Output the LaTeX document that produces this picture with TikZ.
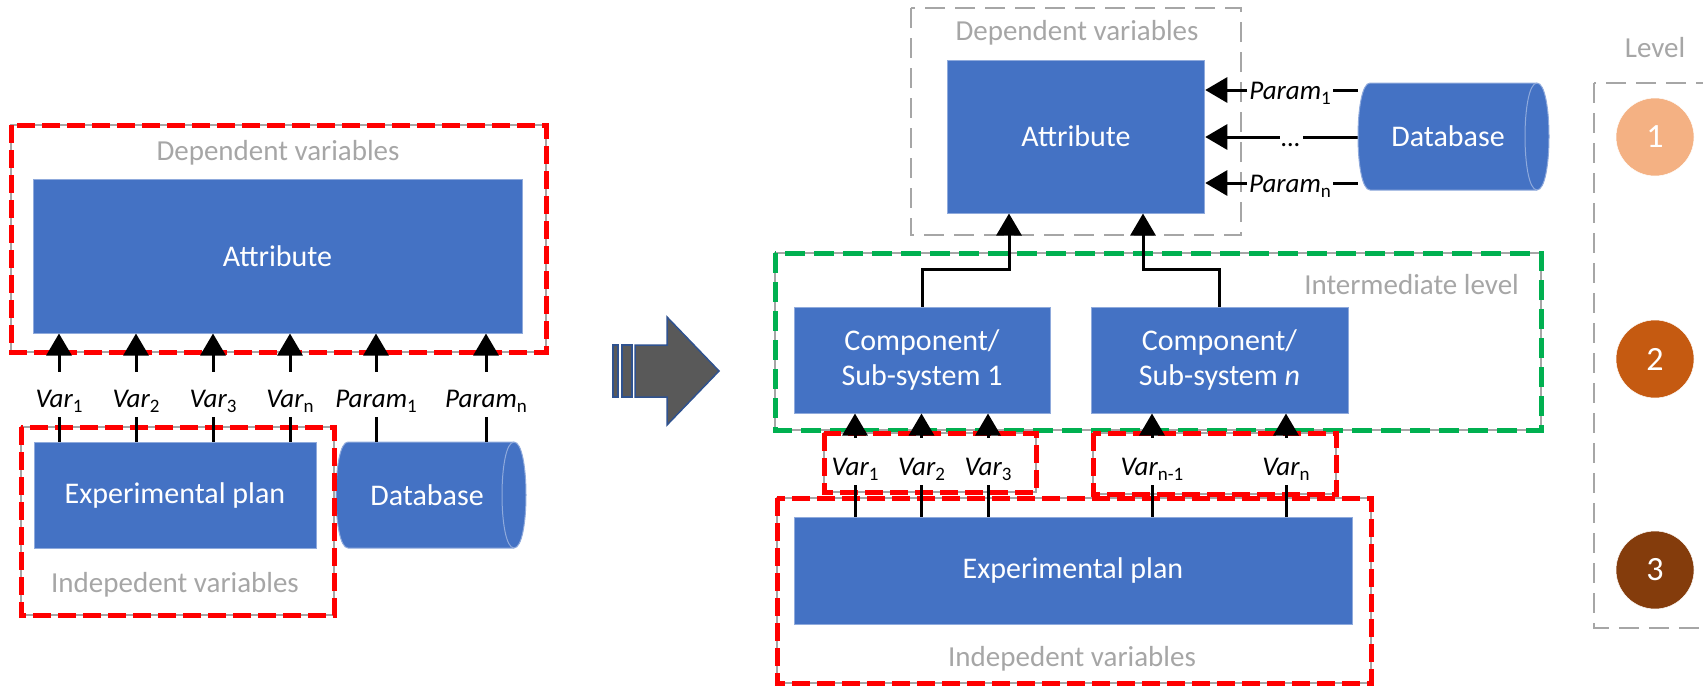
\documentclass[tikz,border=0pt]{standalone}
\usepackage{fontspec}
\setmainfont{Carlito}
\usetikzlibrary{arrows.meta}
\definecolor{boxblue}{HTML}{4472C4}
\definecolor{boxedge}{HTML}{8FAADC}
\definecolor{lgray}{HTML}{A6A6A6}
\definecolor{dred}{HTML}{FF0000}
\definecolor{dgreen}{HTML}{00B050}
\definecolor{arrgray}{HTML}{595959}
\definecolor{arredge}{HTML}{2F528F}
\definecolor{lvlone}{HTML}{F4B183}
\definecolor{lvltwo}{HTML}{C55A11}
\definecolor{lvlthree}{HTML}{843C0C}
\newcommand\fsz[2]{\fontsize{#1pt}{#2pt}\selectfont}
\newcommand\lowidx[1]{\raisebox{-5pt}{\fontsize{19pt}{19pt}\selectfont\upshape #1}}
\begin{document}
\begin{tikzpicture}[x=1pt,y=-1pt,
  bluebox/.style={draw=boxedge,line width=1pt,fill=boxblue,text=white,font=\fsz{30}{35},align=center,inner sep=0pt},
  dbtext/.style={text=white,font=\fsz{30}{35},inner sep=0pt},
  graytxt/.style={text=lgray,font=\fsz{29}{33},inner sep=0pt},
  grayframe/.style={draw=lgray,line width=2.5pt,dash pattern=on 20pt off 10pt},
  underline/.style={draw=lgray,line width=2pt},
  redframe/.style={draw=dred,line width=5pt,dash pattern=on 18pt off 7pt},
  greenframe/.style={draw=dgreen,line width=5pt,dash pattern=on 20pt off 9pt},
  varlbl/.style={font=\fsz{27}{31}\itshape,inner sep=0pt,text height=35pt,text depth=10pt,anchor=base},
  varlblR/.style={font=\fsz{27}{31}\itshape,inner sep=0pt,text height=37pt,text depth=10pt,anchor=base},
  plbl/.style={font=\fsz{27}{31}\itshape,inner xsep=2pt,inner ysep=0pt,text height=18pt,text depth=0pt,anchor=base},
  conn/.style={line width=3pt},
  arr/.style={conn,-{Triangle[length=22pt,width=25pt]}},
  lvl/.style={circle,draw=white,line width=0.5pt,minimum size=78pt,inner sep=0pt,text=white,font=\fsz{34}{40}}
]
\useasboundingbox (0,0) rectangle (1703,686);

% ---------------- left part ----------------
\node[bluebox,minimum width=489pt,minimum height=154pt] (attrL) at (277.5,256) {Attribute};
\node[bluebox,minimum width=282pt,minimum height=106pt] (epL) at (175,495) {Experimental plan};
% database (left)
\fill[boxblue,draw=boxedge,line width=1pt] (348,442) -- (514,442) .. controls (530,442) and (530,548) .. (514,548) -- (348,548) .. controls (332,548) and (332,442) .. (348,442) -- cycle;
\draw[boxedge,line width=1pt] (514,442) .. controls (498,442) and (498,548) .. (514,548);
\node[dbtext,minimum height=106pt] (dbL) at (427,495) {Database};

\draw[underline] (11,125) rectangle (546,352);
\draw[redframe] (11,125) rectangle (546,352);
\draw[underline] (21,427) rectangle (334,615);
\draw[redframe] (21,427) rectangle (334,615);
\node[graytxt] (depL) at (278,153) {Dependent variables};
\node[graytxt] (indL) at (175,585) {Indepedent variables};

\node[varlbl] (la1) at (59,407) {Var\lowidx{1}};
\node[varlbl] (la2) at (136,407) {Var\lowidx{2}};
\node[varlbl] (la3) at (213,407) {Var\lowidx{3}};
\node[varlbl] (la4) at (290,407) {Var\lowidx{n}};
\node[varlbl] (lp1) at (376,407) {Param\lowidx{1}};
\node[varlbl] (lpn) at (486,407) {Param\lowidx{n}};
\foreach \n in {la1,la2,la3,la4}{
  \draw[conn] (\n.south) -- (\n |- epL.north);
  \draw[arr] (\n.north) -- (\n |- attrL.south);
}
\foreach \n in {lp1,lpn}{
  \draw[conn] (\n.south) -- (\n |- dbL.north);
  \draw[arr] (\n.north) -- (\n |- attrL.south);
}

% ---------------- big arrow ----------------
\filldraw[fill=arrgray,draw=arredge,line width=1.5pt] (635,345) -- (667,345) -- (667,317) -- (719,371) -- (667,425) -- (667,397) -- (635,397) -- cycle;
\filldraw[fill=arrgray,draw=arredge,line width=1.5pt] (613,345) rectangle (618,397);
\filldraw[fill=arrgray,draw=arredge,line width=1.5pt] (622,345) rectangle (632,397);

% ---------------- right part ----------------
\draw[grayframe] (911,8) rectangle (1241,235);
\node[graytxt] (depR) at (1077,33) {Dependent variables};
\node[bluebox,minimum width=257.5pt,minimum height=153pt] (attrR) at (1076,136.5) {Attribute};

\node[bluebox,minimum width=256pt,minimum height=106pt] (c1) at (922,360) {Component/\\Sub-system 1};
\node[bluebox,minimum width=257pt,minimum height=106pt] (cn) at (1219.5,360) {Component/\\Sub-system \textit{n}};
\node[bluebox,minimum width=558pt,minimum height=107pt] (epR) at (1073,570.5) {Experimental plan};

\draw[underline] (775,253) rectangle (1541,430);
\draw[greenframe] (775,253) rectangle (1541,430);
\node[graytxt,anchor=east] (intR) at (1519,285) {Intermediate level};
\draw[underline] (824,433) rectangle (1036,492);
\draw[redframe] (824,433) rectangle (1036,492);
\draw[underline] (1093,433) rectangle (1336,494);
\draw[redframe] (1093,433) rectangle (1336,494);
\draw[underline] (777,498) rectangle (1371,683);
\draw[redframe] (777,498) rectangle (1371,683);
\node[graytxt] (indR) at (1072,659) {Indepedent variables};

% parameters from database
\node[dbtext,minimum width=180pt,minimum height=107pt] (dbR) at (1448,136.5) {};
\node[plbl] (rp1) at (1290,99) {Param\lowidx{1}};
\node[plbl] (rpd) at (1291,146) {…};
\node[plbl] (rpn) at (1290,192) {Param\lowidx{n}};
\foreach \n in {rp1,rpd,rpn}{
  \draw[conn] (dbR.west |- \n.east) -- (\n.east);
  \draw[arr] (\n.west) -- (attrR.east |- \n.west);
}
\fill[boxblue,draw=boxedge,line width=1pt] (1370,83) -- (1537,83) .. controls (1553,83) and (1553,190) .. (1537,190) -- (1370,190) .. controls (1354,190) and (1354,83) .. (1370,83) -- cycle;
\draw[boxedge,line width=1pt] (1537,83) .. controls (1521,83) and (1521,190) .. (1537,190);
\node[dbtext] (dbRtext) at (dbR) {Database};

% components to attribute
\coordinate (j1) at (1009,269);
\coordinate (jn) at (1143,269);
\draw[arr] (c1.north) |- (j1) -- (j1 |- attrR.south);
\draw[arr] (cn.north) |- (jn) -- (jn |- attrR.south);

% variables to components
\node[varlblR] (ra1) at (855,475) {Var\lowidx{1}};
\node[varlblR] (ra2) at (921.5,475) {Var\lowidx{2}};
\node[varlblR] (ra3) at (988,475) {Var\lowidx{3}};
\node[varlblR] (ra4) at (1152,475) {Var\lowidx{n-1}};
\node[varlblR] (ra5) at (1286,475) {Var\lowidx{n}};
\foreach \n in {ra1,ra2,ra3}{
  \draw[conn] (\n.south) -- (\n |- epR.north);
  \draw[arr] (\n.north) -- (\n |- c1.south);
}
\foreach \n in {ra4,ra5}{
  \draw[conn] (\n.south) -- (\n |- epR.north);
  \draw[arr] (\n.north) -- (\n |- cn.south);
}

% ---------------- levels ----------------
\node[graytxt] (lvtitle) at (1655,48) {Level};
\draw[grayframe] (1594,83) rectangle (1740,628);
\node[lvl,fill=lvlone] (lev1) at (1655,137) {1};
\node[lvl,fill=lvltwo] (lev2) at (1655,359) {2};
\node[lvl,fill=lvlthree] (lev3) at (1655,570) {3};
\end{tikzpicture}
\end{document}
